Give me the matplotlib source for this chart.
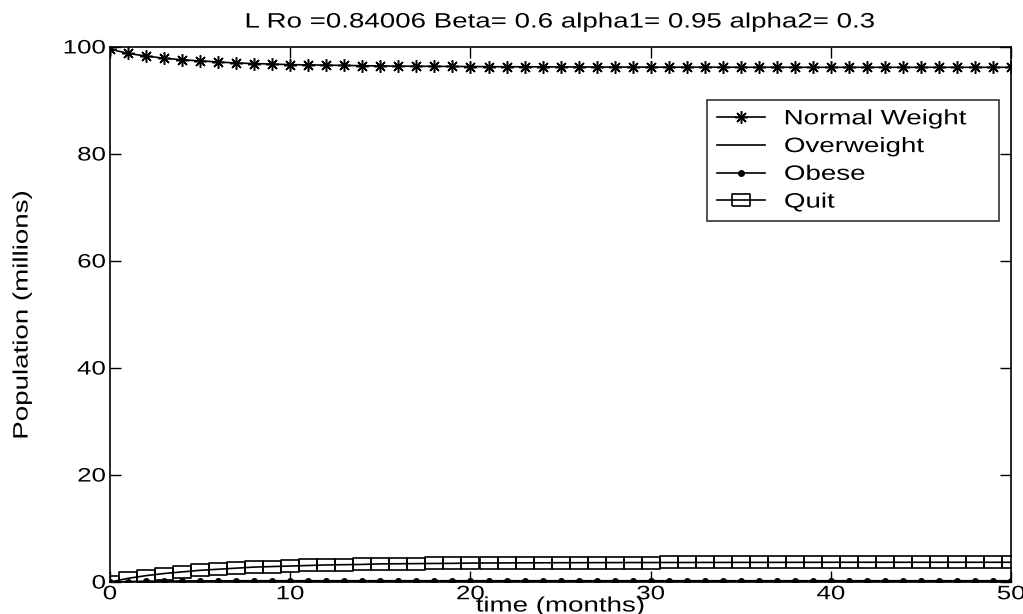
import numpy as np
import matplotlib
matplotlib.use("Agg")
import matplotlib.pyplot as plt
from matplotlib.patheffects import AbstractPathEffect
from matplotlib.transforms import Affine2D

plt.rcParams["font.family"] = ["Liberation Sans", "DejaVu Sans"]

# monthly model output, t = 0..50
months = list(range(51))

normal_weight = [99.6, 98.8, 98.3, 97.9, 97.6, 97.4, 97.2, 97.0, 96.9, 96.8,
                 96.7, 96.65, 96.6, 96.55, 96.5, 96.45, 96.42, 96.4, 96.38, 96.36,
                 96.34, 96.32, 96.3, 96.3, 96.28, 96.27, 96.26, 96.25, 96.24, 96.24,
                 96.23, 96.23, 96.22, 96.22, 96.22, 96.21, 96.21, 96.21, 96.2, 96.2,
                 96.2, 96.2, 96.2, 96.2, 96.2, 96.2, 96.2, 96.2, 96.2, 96.2, 96.2]

overweight = [0.0, 0.05, 0.07, 0.08, 0.08, 0.08, 0.08, 0.08, 0.08, 0.08,
              0.08, 0.08, 0.08, 0.08, 0.08, 0.08, 0.08, 0.08, 0.08, 0.08,
              0.08, 0.08, 0.08, 0.08, 0.08, 0.08, 0.08, 0.08, 0.08, 0.08,
              0.08, 0.08, 0.08, 0.08, 0.08, 0.08, 0.08, 0.08, 0.08, 0.08,
              0.08, 0.08, 0.08, 0.08, 0.08, 0.08, 0.08, 0.08, 0.08, 0.08, 0.08]

obese = [0.0, 0.1, 0.15, 0.18, 0.2, 0.22, 0.23, 0.24, 0.25, 0.25,
         0.25, 0.25, 0.25, 0.25, 0.25, 0.25, 0.25, 0.25, 0.25, 0.25,
         0.25, 0.25, 0.25, 0.25, 0.25, 0.25, 0.25, 0.25, 0.25, 0.25,
         0.25, 0.25, 0.25, 0.25, 0.25, 0.25, 0.25, 0.25, 0.25, 0.25,
         0.25, 0.25, 0.25, 0.25, 0.25, 0.25, 0.25, 0.25, 0.25, 0.25, 0.25]

quit_ = [0.0, 0.7, 1.2, 1.6, 1.9, 2.2, 2.4, 2.6, 2.8, 2.9,
         3.0, 3.1, 3.2, 3.25, 3.3, 3.4, 3.42, 3.45, 3.48, 3.5,
         3.55, 3.57, 3.58, 3.6, 3.6, 3.62, 3.62, 3.63, 3.64, 3.65,
         3.65, 3.66, 3.66, 3.67, 3.67, 3.68, 3.68, 3.68, 3.69, 3.69,
         3.7, 3.7, 3.7, 3.7, 3.7, 3.7, 3.7, 3.7, 3.7, 3.7, 3.7]

title = "L Ro =0.84006 Beta= 0.6 alpha1= 0.95 alpha2= 0.3"


class Stretch(AbstractPathEffect):
    """Widen glyph outlines along the text direction (old wide screen font)."""

    def __init__(self, sx=1.33, anchor="center"):
        super().__init__()
        self.sx = sx
        self.anchor = anchor

    def draw_path(self, renderer, gc, tpath, affine, rgbFace=None):
        ext = tpath.get_extents()
        if self.anchor == "left":
            x0 = ext.x0
        elif self.anchor == "right":
            x0 = ext.x1
        else:
            x0 = 0.5 * (ext.x0 + ext.x1)
        t = Affine2D().translate(-x0, 0).scale(self.sx, 1).translate(x0, 0)
        renderer.draw_path(gc, tpath, t + affine, rgbFace)


SX = 1.33

# wide box marker (the figure was stretched horizontally)
box = [(-1, -0.62), (1, -0.62), (1, 0.62), (-1, 0.62), (-1, -0.62)]

fig = plt.figure(figsize=(10.23, 6.14), dpi=100)
ax = fig.add_axes([0.1075, 0.052, 0.881, 0.8715])

ax.plot(months, normal_weight, color="black", lw=1.2, marker=(8, 2, 0),
        markersize=9, markeredgewidth=1.1, label="Normal Weight")
ax.plot(months, overweight, color="black", lw=1.2, label="Overweight")
ax.plot(months, obese, color="black", lw=1.2, marker=".", markersize=8,
        label="Obese")
ax.plot(months, quit_, color="black", lw=1.2, marker=box, markersize=13,
        markerfacecolor="none", markeredgewidth=1.2, label="Quit")

ax.set_xlim(0, 50)
ax.set_ylim(0, 100)
ax.set_xticks(range(0, 51, 10))
ax.set_yticks(range(0, 101, 20))
ax.tick_params(direction="in", length=8, width=1, top=True, right=True,
               labelsize=14, pad=3)
for s in ax.spines.values():
    s.set_linewidth(1.2)

for lab in ax.get_xticklabels():
    lab.set_path_effects([Stretch(SX, "center")])
for lab in ax.get_yticklabels():
    lab.set_path_effects([Stretch(SX, "right")])

t = ax.set_title(title, fontsize=15, pad=14)
t.set_path_effects([Stretch(SX, "center")])

xl = ax.set_xlabel("time (months)", fontsize=15)
ax.xaxis.set_label_coords(0.5, -0.027)
xl.set_path_effects([Stretch(SX, "center")])

yl = ax.set_ylabel("Population (millions)", fontsize=15)
ax.yaxis.set_label_coords(-0.087, 0.5)
yl.set_path_effects([Stretch(SX, "center")])

leg = ax.legend(loc="upper left", bbox_to_anchor=(0.6626, 0.68, 0.324, 0.221),
                mode="expand", fontsize=15, frameon=True, fancybox=False,
                edgecolor="black", handlelength=2.35, borderpad=0.45,
                labelspacing=0.42, handletextpad=0.9, borderaxespad=0)
leg.get_frame().set_linewidth(1.2)
for txt in leg.get_texts():
    txt.set_path_effects([Stretch(SX, "left")])

fig.savefig("out.png", dpi=100)
